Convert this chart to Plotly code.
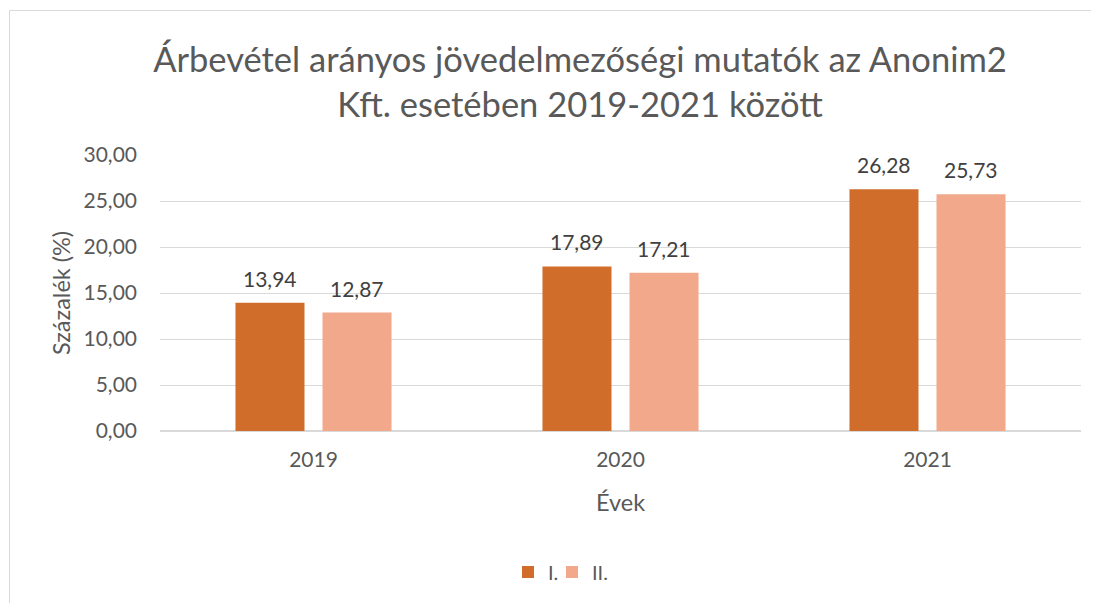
import plotly.graph_objects as go

years = ["2019", "2020", "2021"]
series_I = [13.94, 17.89, 26.28]
series_II = [12.87, 17.21, 25.73]
series_names = ["I.", "II."]
colors = ["#D16D2A", "#F2A88B"]

font = "Lato"
txt = "#595959"

# page has an 8px body margin; figure coordinates = page coordinates - 8
OFF = 8
W, H = 1099 - OFF, 603 - OFF
px_left, px_right, px_top, px_bottom = 160, 1081, 155, 431
L = px_left - OFF
R = W - (px_right - OFF)
T = px_top - OFF
B = H - (px_bottom - OFF)
pw, ph = W - L - R, H - T - B

def py(y):  # page y -> paper y
    return (px_bottom - y) / ph

def pxx(x):  # page x -> paper x
    return (x - px_left) / pw

bargap, bargroupgap = 0.433, 0.207
slot_px = pw / len(years) * (1 - bargap) / 2

fig = go.Figure()
legends = ["legend", "legend2"]
for i, (name, vals, col) in enumerate(zip(series_names, [series_I, series_II], colors)):
    fig.add_trace(go.Bar(
        x=years, y=vals, name=name, marker=dict(color=col, line=dict(width=0)),
        legend=legends[i], hoverinfo="x+y",
    ))
    shift = (i - 0.5) * slot_px
    for j, v in enumerate(vals):
        fig.add_annotation(x=j, y=v, text=f"{v:.2f}".replace(".", ","),
                           xref="x", yref="y", showarrow=False,
                           xshift=shift, yshift=24.5, yanchor="middle",
                           font=dict(family=font, size=21, color="#404040"))

leg_common = dict(orientation="h", xanchor="left", xref="paper",
                  yanchor="middle", yref="paper", y=py(572),
                  font=dict(family=font, size=20, color=txt),
                  itemwidth=30, bgcolor="rgba(0,0,0,0)")

fig.update_layout(
    width=W, height=H,
    margin=dict(l=L, r=R, t=T, b=B, pad=0),
    paper_bgcolor="white", plot_bgcolor="white",
    separators=",.",
    barmode="group", bargap=bargap, bargroupgap=bargroupgap,
    title=dict(text="Árbevétel arányos jövedelmezőségi mutatók az Anonim2<br>Kft. esetében 2019-2021 között",
               x=pxx(580), xanchor="center", xref="paper", y=1 - (72 - OFF) / H, yanchor="middle",
               font=dict(family=font, size=34.5, color=txt)),
    font=dict(family=font, color=txt),
    showlegend=True,
    legend=dict(x=pxx(508), **leg_common),
    legend2=dict(x=pxx(552), **leg_common),
    xaxis=dict(type="category", range=[-0.5, len(years) - 0.5], autorange=False,
               showgrid=False, showline=True, linecolor="#D9D9D9", linewidth=1,
               ticks="", ticklabelstandoff=10,
               tickfont=dict(family=font, size=21, color=txt),
               title=dict(text="Évek", font=dict(family=font, size=23.5, color=txt), standoff=24)),
    yaxis=dict(range=[0, 30], autorange=False, dtick=5, tickformat=".2f", showgrid=True,
               gridcolor="#D9D9D9", gridwidth=1, zeroline=True, zerolinecolor="#D9D9D9",
               ticks="", ticklabelstandoff=22,
               tickfont=dict(family=font, size=21, color=txt),
               title=dict(text="Százalék (%)", font=dict(family=font, size=23.5, color=txt), standoff=6)),
)

fig.add_shape(type="rect", xref="paper", yref="paper",
              x0=pxx(9.5), x1=pxx(1130),
              y0=py(640), y1=py(10.5),
              line=dict(color="#D9D9D9", width=1), fillcolor="rgba(0,0,0,0)", layer="below")

fig.write_html("out.html")
